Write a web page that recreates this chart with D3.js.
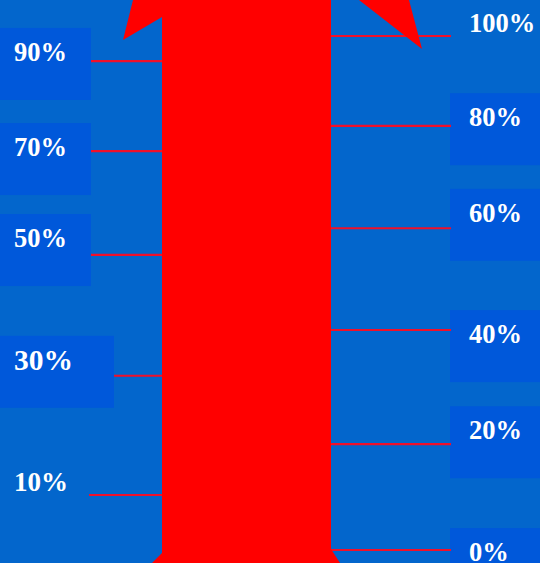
<!DOCTYPE html>
<html><head><meta charset="utf-8">
<script src="https://cdn.jsdelivr.net/npm/d3@7"></script>
<style>html,body{margin:0;padding:0;background:#0366cc;overflow:hidden}</style>
</head><body>
<svg id="chart" width="540" height="563"></svg>
<script>
// ---- data ----
const leftLabels = ["90%", "70%", "50%", "30%", "10%"];
const leftTickValues = [95.1, 77.6, 57.4, 33.9, 10.7];
const leftLabelValues = [96.9, 78.4, 60.7, 37.0, 13.2];
const rightLabels = ["100%", "80%", "60%", "40%", "20%", "0%"];
const rightTickValues = [100, 82.5, 62.6, 42.8, 20.6, 0];
const rightLabelValues = [102.5, 84.2, 65.6, 42.0, 23.3, -0.4];

// ---- layout / style ----
const W = 540, H = 563;
const bg = "#0366cc", boxFill = "#0058da", red = "#ff0000", tickRed = "#f0102a";
const barX0 = 162, barX1 = 331;
const y = d3.scaleLinear().domain([0, 100]).range([550, 36]);
const styleFor = {
  "30%": {size: 29.5, boxW: 114, box: true},
  "10%": {size: 27, boxW: 89, box: false},
  "100%": {size: 26.5, box: false}
};
const svg = d3.select("#chart");
svg.append("rect").attr("width", W).attr("height", H).attr("fill", bg);

const left = leftLabels.map((l, i) => ({label: l, tick: leftTickValues[i], pos: leftLabelValues[i],
  s: Object.assign({size: 26.5, boxW: 91, box: true}, styleFor[l] || {})}));
const right = rightLabels.map((l, i) => ({label: l, tick: rightTickValues[i], pos: rightLabelValues[i],
  s: Object.assign({size: 26.5, box: true}, styleFor[l] || {})}));

// boxes
svg.selectAll("rect.lb").data(left.filter(d => d.s.box)).join("rect").attr("class", "lb")
  .attr("x", 0).attr("y", d => y(d.pos) - 24).attr("width", d => d.s.boxW).attr("height", 72)
  .attr("fill", boxFill);
svg.selectAll("rect.rb").data(right.filter(d => d.s.box)).join("rect").attr("class", "rb")
  .attr("x", 450).attr("y", d => y(d.pos) - 24).attr("width", W - 450).attr("height", 72)
  .attr("fill", boxFill);

// tick lines
svg.selectAll("line.lt").data(left).join("line").attr("class", "lt")
  .attr("x1", d => d.s.boxW).attr("x2", barX0).attr("y1", d => y(d.tick)).attr("y2", d => y(d.tick))
  .attr("stroke", tickRed).attr("stroke-width", 2.2);
svg.selectAll("line.rt").data(right).join("line").attr("class", "rt")
  .attr("x1", barX1).attr("x2", 451).attr("y1", d => y(d.tick)).attr("y2", d => y(d.tick))
  .attr("stroke", tickRed).attr("stroke-width", 2.2);

// thermometer arrow bar
svg.append("rect").attr("x", barX0).attr("y", 0).attr("width", barX1 - barX0).attr("height", H).attr("fill", red);
const poly = pts => svg.append("polygon").attr("points", pts.map(p => p.join(",")).join(" ")).attr("fill", red);
poly([[barX0 - 29, 0], [barX0 - 39, 40], [barX0, 17], [barX0, 0]]);
poly([[barX1 + 28, 0], [barX1 + 91, 49], [barX1 + 78, 0]]);
poly([[barX0, 553], [barX0 - 10, H], [barX0, H]]);
poly([[barX1, 549], [barX1 + 9, H], [barX1, H]]);

// labels
const font = "'Liberation Serif', 'Times New Roman', serif";
svg.selectAll("text.ll").data(left).join("text").attr("class", "ll")
  .attr("x", 14).attr("y", d => y(d.pos) + d.s.size * 0.34)
  .attr("font-family", font).attr("font-weight", "bold").attr("font-size", d => d.s.size)
  .attr("fill", "#ffffff").text(d => d.label);
svg.selectAll("text.rl").data(right).join("text").attr("class", "rl")
  .attr("x", 469).attr("y", d => y(d.pos) + d.s.size * 0.34)
  .attr("font-family", font).attr("font-weight", "bold").attr("font-size", d => d.s.size)
  .attr("fill", "#ffffff").text(d => d.label);
</script>
</body></html>
